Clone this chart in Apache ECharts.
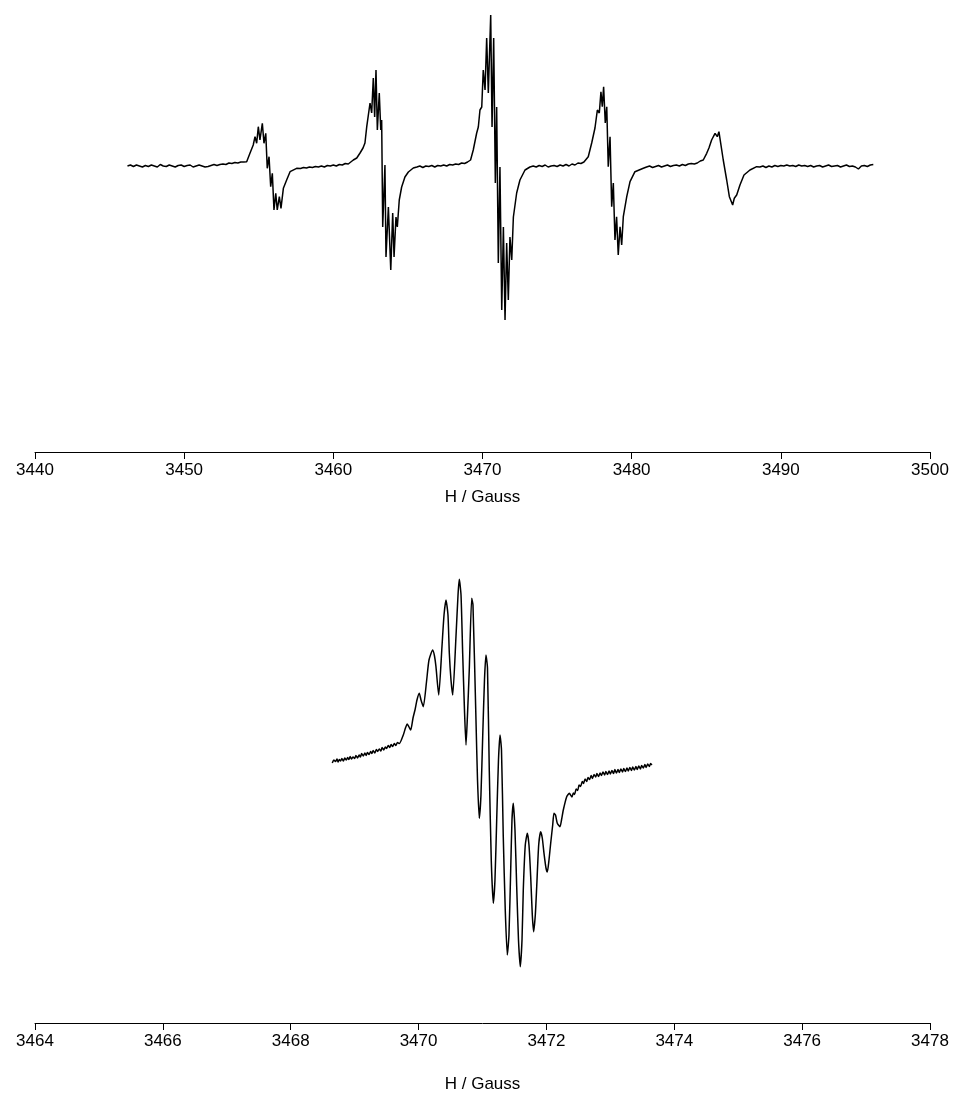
<!DOCTYPE html>
<html>
<head>
<meta charset="utf-8">
<script src="https://cdn.jsdelivr.net/npm/echarts@6/dist/echarts.min.js"></script>
<style>
  html, body { margin: 0; padding: 0; background: #fff; }
  #chart { width: 958px; height: 1101px; }
</style>
</head>
<body>
<div id="chart"></div>
<script>
// Full EPR sweep: [field (G), first-derivative intensity (a.u.)]
const wideSpectrum = [
  [3446.2, 0], [3446.4, 1], [3446.6, -0.5], [3446.8, 1], [3447.0, 0], [3447.2, -1], [3447.4, 0.5],
  [3447.6, -0.5], [3447.8, 1], [3448.0, 0], [3448.2, -1], [3448.4, 1.5], [3448.6, 0], [3448.8, -0.5],
  [3449.0, 1], [3449.2, 0], [3449.4, -1], [3449.6, 0.5], [3449.8, 1], [3450.0, -0.5], [3450.2, 0.5],
  [3450.4, 1], [3450.6, -1], [3450.8, 0], [3451.0, 1], [3451.2, 0], [3451.4, -1], [3451.6, -0.5],
  [3451.8, 0.5], [3452.0, 1.5], [3452.2, 0.5], [3452.4, 1.5], [3452.6, 2], [3452.8, 1.5], [3453.0, 3],
  [3453.2, 2.5], [3453.4, 3.5], [3453.6, 3], [3453.8, 4], [3454.0, 4],
  // first hyperfine line
  [3454.19, 4.3], [3454.41, 12.7], [3454.63, 21], [3454.75, 29.3], [3454.86, 22.7], [3454.97, 39.3],
  [3455.08, 26], [3455.24, 42.7], [3455.35, 22.7], [3455.47, 32.7], [3455.57, -2.3], [3455.69, 9.3],
  [3455.80, -20.7], [3455.91, -7.3], [3456.02, -44], [3456.14, -27.3], [3456.24, -44], [3456.38, -30.7],
  [3456.49, -42.3], [3456.65, -22.3], [3456.87, -14], [3457.10, -5.7], [3457.54, -2.3],
  [3457.8, -2.5], [3458.0, -1.5], [3458.2, -2], [3458.4, -1], [3458.6, -1.5], [3458.8, -0.5], [3459.0, -1],
  [3459.2, 0], [3459.4, -1], [3459.6, 0.5], [3459.8, 0], [3460.0, 1], [3460.2, 0], [3460.4, 1.5],
  [3460.6, 1], [3460.8, 2.5], [3461.0, 2],
  // second hyperfine line
  [3461.34, 6], [3461.57, 8], [3461.79, 13], [3461.99, 18], [3462.12, 23], [3462.24, 39.3], [3462.34, 41],
  [3462.46, 63], [3462.57, 53], [3462.68, 88], [3462.77, 49], [3462.86, 96], [3462.95, 36], [3463.08, 73],
  [3463.18, 36], [3463.24, 46], [3463.31, -61], [3463.46, 1], [3463.53, -91], [3463.69, -41],
  [3463.85, -104], [3463.98, -47], [3464.07, -91], [3464.20, -51], [3464.29, -61], [3464.42, -34],
  [3464.58, -21], [3464.80, -11], [3465.03, -6], [3465.36, -2],
  [3465.6, -1], [3465.8, 0], [3466.0, -1.5], [3466.2, 0], [3466.4, -0.5], [3466.6, 0.5], [3466.8, -1],
  [3467.0, 0.5], [3467.2, 0], [3467.4, 1], [3467.6, 0], [3467.8, 1.5], [3468.0, 1], [3468.2, 2],
  [3468.4, 1.5], [3468.6, 3], [3468.8, 2.5], [3469.0, 4], [3469.2, 6],
  // central hyperfine line
  [3469.38, 16], [3469.61, 33], [3469.72, 39], [3469.83, 56], [3469.95, 59], [3470.05, 96], [3470.17, 76],
  [3470.28, 128], [3470.39, 73], [3470.55, 151], [3470.64, 39], [3470.75, 128], [3470.86, -17],
  [3470.95, 59], [3471.06, -97], [3471.17, -1], [3471.29, -144], [3471.40, -61], [3471.51, -154],
  [3471.62, -77], [3471.73, -134], [3471.84, -71], [3471.96, -94], [3472.07, -51], [3472.29, -27],
  [3472.51, -14], [3472.85, -4], [3473.18, -1],
  [3473.4, 0], [3473.6, -1], [3473.8, 0.5], [3474.0, -0.5], [3474.2, 1], [3474.4, -1], [3474.6, 0],
  [3474.8, 0.5], [3475.0, -0.5], [3475.2, 1], [3475.4, 0], [3475.6, 1.5], [3475.8, 0], [3476.0, 2],
  [3476.2, 1], [3476.4, 3], [3476.6, 2.5], [3476.8, 4],
  // fourth hyperfine line
  [3477.09, 9.3], [3477.32, 23], [3477.54, 38], [3477.70, 56], [3477.83, 53], [3477.94, 74.3],
  [3478.03, 59.3], [3478.12, 79.3], [3478.23, 43], [3478.33, 59.3], [3478.43, -0.7], [3478.55, 29.3],
  [3478.66, -40.7], [3478.77, -17], [3478.88, -74], [3478.99, -50.7], [3479.10, -89], [3479.22, -60.7],
  [3479.33, -79], [3479.44, -50.7], [3479.67, -30.7], [3479.89, -15.7], [3480.22, -5.7], [3480.78, -2.3],
  [3481.0, -1], [3481.2, 0], [3481.4, -1.5], [3481.6, -0.5], [3481.8, 0.5], [3482.0, -1], [3482.2, 0],
  [3482.4, 1], [3482.6, -0.5], [3482.8, 0.5], [3483.0, 1], [3483.2, 0], [3483.4, 1.5], [3483.6, 0.5],
  [3483.8, 2], [3484.0, 2.5], [3484.2, 2], [3484.4, 3], [3484.6, 5], [3484.80, 6],
  // fifth hyperfine line
  [3485.03, 12.7], [3485.18, 18], [3485.36, 26], [3485.59, 32.7], [3485.74, 29.3], [3485.85, 34.3],
  [3485.97, 22.7], [3486.14, 6], [3486.37, -14], [3486.55, -30.7], [3486.66, -29], [3486.77, -39],
  [3486.88, -32.3], [3487.04, -29], [3487.26, -19], [3487.53, -9], [3487.93, -4], [3488.38, -0.7],
  [3488.6, -1], [3488.8, 0], [3489.0, -1.5], [3489.2, 0], [3489.4, -1], [3489.6, 0.5], [3489.8, -0.5],
  [3490.0, 0.5], [3490.2, 0], [3490.4, 1], [3490.6, 0], [3490.8, 0.5], [3491.0, -0.5], [3491.2, 1],
  [3491.4, 0], [3491.6, 0.5], [3491.8, -0.5], [3492.0, 0.5], [3492.2, -1], [3492.4, 0], [3492.6, 0.5],
  [3492.8, -1], [3493.0, 0], [3493.2, 1], [3493.4, -0.5], [3493.6, 0], [3493.8, 0.5], [3494.0, -1],
  [3494.2, 0], [3494.4, 1], [3494.6, -0.5], [3494.8, 0], [3495.0, -1], [3495.2, -3], [3495.4, 0],
  [3495.6, 0.5], [3495.8, -0.5], [3496.0, 1], [3496.2, 1.5]
];

// Narrow sweep over the central line: [field (G), intensity (a.u.)]
const narrowSpectrum = [
  [3468.650, 3], [3468.675, 6], [3468.700, 4.5], [3468.725, 7], [3468.740, 4], [3468.760, 6.5],
  [3468.780, 5], [3468.800, 7.5], [3468.825, 5], [3468.845, 8], [3468.870, 6], [3468.890, 8.5],
  [3468.910, 6.5], [3468.930, 9.5], [3468.950, 7], [3468.975, 9], [3469.000, 7.5], [3469.020, 10.5],
  [3469.045, 8], [3469.070, 11], [3469.090, 9], [3469.110, 12.5], [3469.135, 10], [3469.160, 13],
  [3469.180, 10.5], [3469.200, 13.5], [3469.225, 11.5], [3469.250, 14.5], [3469.270, 12.5],
  [3469.290, 15.5], [3469.315, 13], [3469.340, 16.5], [3469.360, 14.5], [3469.385, 17], [3469.410, 15],
  [3469.430, 18.5], [3469.455, 16], [3469.480, 19], [3469.500, 17.5], [3469.525, 20.5], [3469.550, 18.5],
  [3469.570, 21.5], [3469.595, 19.5], [3469.620, 22.5], [3469.645, 20.5], [3469.670, 23.5],
  [3469.700, 22.5],
  [3469.761, 31], [3469.795, 38], [3469.823, 42], [3469.850, 39], [3469.877, 36], [3469.913, 48],
  [3469.944, 56], [3469.975, 66], [3470.011, 72.7], [3470.038, 66], [3470.074, 59.3], [3470.127, 86],
  [3470.163, 106], [3470.221, 116], [3470.249, 110], [3470.272, 99.3], [3470.315, 71], [3470.366, 119.3],
  [3470.398, 151], [3470.429, 166], [3470.460, 151], [3470.481, 112.7], [3470.507, 86], [3470.534, 71],
  [3470.585, 129.3], [3470.617, 171], [3470.637, 186.7], [3470.664, 171], [3470.690, 112.7],
  [3470.718, 56], [3470.742, 21], [3470.765, 51], [3470.793, 96], [3470.831, 167.7], [3470.851, 161],
  [3470.898, 46], [3470.922, -14], [3470.950, -52.3], [3470.976, -29], [3471.003, 29.3], [3471.031, 86],
  [3471.054, 111], [3471.078, 98], [3471.106, -4], [3471.137, -94], [3471.169, -137.3], [3471.195, -114],
  [3471.222, -54], [3471.250, 6], [3471.274, 31], [3471.297, 16], [3471.325, -70.7], [3471.356, -144],
  [3471.388, -189], [3471.414, -169], [3471.441, -104], [3471.461, -54], [3471.482, -37.3],
  [3471.508, -64], [3471.535, -120.7], [3471.563, -174], [3471.591, -200.7], [3471.618, -174],
  [3471.638, -124], [3471.669, -79], [3471.701, -67.3], [3471.727, -79], [3471.754, -110.7],
  [3471.779, -149], [3471.800, -165.7], [3471.826, -149], [3471.848, -120.7], [3471.879, -79],
  [3471.910, -65.7], [3471.935, -72], [3471.962, -87.3], [3471.993, -102], [3472.014, -106],
  [3472.040, -94], [3472.067, -77], [3472.098, -59], [3472.118, -47.3], [3472.142, -49],
  [3472.170, -57.3], [3472.212, -60.7], [3472.236, -54], [3472.264, -44], [3472.317, -30.7],
  [3472.358, -27.3],
  [3472.400, -31], [3472.420, -27], [3472.440, -28.5], [3472.465, -23], [3472.490, -24.5], [3472.510, -19],
  [3472.535, -20.5], [3472.560, -15.5], [3472.580, -17.5], [3472.605, -13], [3472.630, -15.5],
  [3472.650, -11.5], [3472.675, -13.5], [3472.700, -9.5], [3472.720, -12.5], [3472.745, -8.5],
  [3472.770, -11], [3472.790, -7.5], [3472.815, -10.5], [3472.840, -7], [3472.860, -9.5],
  [3472.885, -6], [3472.910, -9], [3472.930, -5.5], [3472.955, -8.5], [3472.980, -5], [3473.000, -8],
  [3473.025, -4.5], [3473.050, -7.5], [3473.070, -3.5], [3473.095, -7], [3473.120, -3.5],
  [3473.140, -6.5], [3473.165, -3], [3473.190, -6], [3473.210, -2.5], [3473.235, -5.5], [3473.260, -2],
  [3473.280, -5], [3473.305, -1.5], [3473.330, -4.5], [3473.350, -1], [3473.375, -4], [3473.400, -0.5],
  [3473.420, -3.5], [3473.445, 0], [3473.470, -3], [3473.490, 0.5], [3473.515, -2], [3473.540, 1.5],
  [3473.560, -1.5], [3473.585, 2], [3473.610, -0.5], [3473.630, 2.5], [3473.650, 1]
];

// Axis extents and tick spacing (Gauss)
const wideAxis = { min: 3440, max: 3500, interval: 10 };
const narrowAxis = { min: 3464, max: 3478, interval: 2 };
const axisTitle = 'H / Gauss';

const FONT = 'Liberation Sans, Arial, sans-serif';

function fieldAxis(gridIndex, range, nameGap) {
  return {
    type: 'value',
    gridIndex: gridIndex,
    min: range.min,
    max: range.max,
    interval: range.interval,
    name: axisTitle,
    nameLocation: 'middle',
    nameGap: nameGap,
    nameTextStyle: { color: '#000', fontSize: 17, fontFamily: FONT },
    axisLine: { show: true, onZero: false, lineStyle: { color: '#000', width: 1 } },
    axisTick: { show: true, length: 7, lineStyle: { color: '#000', width: 1 } },
    axisLabel: {
      color: '#000', fontSize: 17, fontFamily: FONT, margin: 10,
      formatter: function (v) { return String(v); }
    },
    splitLine: { show: false }
  };
}

const chart = echarts.init(document.getElementById('chart'), null, { renderer: 'canvas' });

chart.setOption({
  animation: false,
  backgroundColor: '#fff',
  grid: [
    { left: 35, width: 895, top: 0, height: 452 },
    { left: 35, width: 895, top: 560, height: 463 }
  ],
  xAxis: [
    fieldAxis(0, wideAxis, 37),
    fieldAxis(1, narrowAxis, 53)
  ],
  yAxis: [
    { type: 'value', gridIndex: 0, min: -286, max: 166, show: false },
    { type: 'value', gridIndex: 1, min: -257, max: 206, show: false }
  ],
  series: [
    {
      type: 'line', xAxisIndex: 0, yAxisIndex: 0, data: wideSpectrum,
      showSymbol: false, lineStyle: { color: '#000', width: 1.5 }
    },
    {
      type: 'line', xAxisIndex: 1, yAxisIndex: 1, data: narrowSpectrum,
      showSymbol: false, smooth: 0.2, lineStyle: { color: '#000', width: 1.5 }
    }
  ]
});
</script>
</body>
</html>
